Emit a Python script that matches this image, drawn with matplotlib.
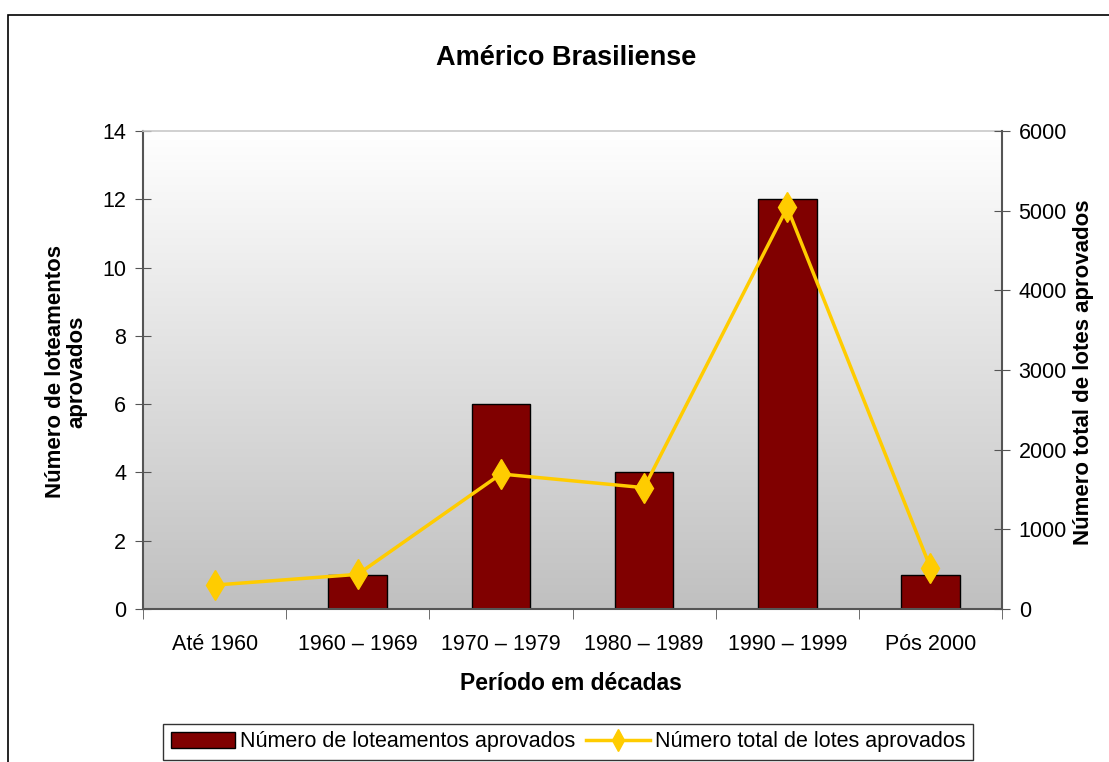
import numpy as np
import matplotlib
matplotlib.use("Agg")
import matplotlib.pyplot as plt
from matplotlib.patches import Rectangle
from matplotlib.lines import Line2D
from matplotlib.colors import LinearSegmentedColormap

periods = ["Até 1960", "1960 – 1969", "1970 – 1979", "1980 – 1989", "1990 – 1999", "Pós 2000"]
loteamentos = [0, 1, 6, 4, 12, 1]
lotes = [300, 435, 1695, 1523, 5040, 520]

plt.rcParams["font.family"] = ["Liberation Sans", "DejaVu Sans"]

fig = plt.figure(figsize=(11.09, 7.62), dpi=100)
W, H = 1109, 762
ax = fig.add_axes([143 / W, 1 - 609 / H, (1002 - 143) / W, (609 - 131) / H])

# outer chart border (runs off right and bottom edge)
fig.patches.append(Rectangle((8 / W, -0.1), 1.2, 1 - 15 / H + 0.1, transform=fig.transFigure,
                             fill=False, edgecolor="black", linewidth=1.2))

# gradient background: white at top, grey at bottom
grad = np.linspace(0, 1, 256).reshape(-1, 1)
cmap = LinearSegmentedColormap.from_list("bg", ["#ffffff", "#c0c0c0"])
ax.imshow(grad, aspect="auto", cmap=cmap, extent=[-0.5, 5.5, 0, 14], origin="upper", zorder=0)

x = np.arange(len(periods))
ax.bar(x, loteamentos, width=0.41, color="#800000", edgecolor="black", linewidth=1, zorder=2)
ax.set_xlim(-0.5, 5.5)
ax.set_ylim(0, 14)
ax.set_yticks(range(0, 15, 2))
ax.set_xticks(x)
ax.set_xticklabels(periods, fontsize=15.5)
ax.set_xticks(np.arange(-0.5, 6, 1), minor=True)
ax.tick_params(axis="x", which="major", length=0, pad=18)
ax.tick_params(axis="x", which="minor", direction="out", length=7, color="#555555")
ax.tick_params(axis="y", direction="inout", length=12, labelsize=15.5, color="#555555", pad=6)

for side in ["left", "bottom"]:
    ax.spines[side].set_color("#555555")
    ax.spines[side].set_linewidth(1.5)
ax.spines["right"].set_visible(False)
ax.spines["top"].set_color("#c8c8c8")
ax.spines["top"].set_linewidth(1.2)

ax2 = ax.twinx()
ax2.plot(x, lotes, color="#ffcc00", linewidth=2.5, marker="d", markersize=15, zorder=3)
ax2.set_ylim(0, 6000)
ax2.set_yticks(range(0, 6001, 1000))
ax2.tick_params(axis="y", direction="inout", length=12, labelsize=15.5, color="#555555", pad=6)
ax2.spines["right"].set_color("#555555")
ax2.spines["right"].set_linewidth(1.5)
for side in ["left", "top", "bottom"]:
    ax2.spines[side].set_visible(False)

fig.text(566 / W, 1 - 58 / H, "Américo Brasiliense", ha="center", va="center",
         fontsize=19.5, fontweight="bold")
fig.text(66 / W, 1 - 372 / H, "Número de loteamentos\naprovados", ha="center", va="center",
         rotation=90, fontsize=16, fontweight="bold", linespacing=1.0)
fig.text(1083 / W, 1 - 372 / H, "Número total de lotes aprovados", ha="center", va="center",
         rotation=90, fontsize=16, fontweight="bold")
fig.text(571 / W, 1 - 683 / H, "Período em décadas", ha="center", va="center",
         fontsize=16.5, fontweight="bold")

handles = [Rectangle((0, 0), 1, 1, facecolor="#800000", edgecolor="black"),
           Line2D([], [], color="#ffcc00", linewidth=2.5, marker="d", markersize=11)]
leg = fig.legend(handles, ["Número de loteamentos aprovados", "Número total de lotes aprovados"],
                 loc="center", bbox_to_anchor=(568 / W, 1 - 742 / H), ncol=2, fontsize=15.5,
                 frameon=True, fancybox=False, edgecolor="black", handlelength=3.0,
                 handletextpad=0.2, columnspacing=0.5, borderpad=0.35)
leg.get_frame().set_linewidth(1.0)

fig.savefig("out.png", dpi=100)
